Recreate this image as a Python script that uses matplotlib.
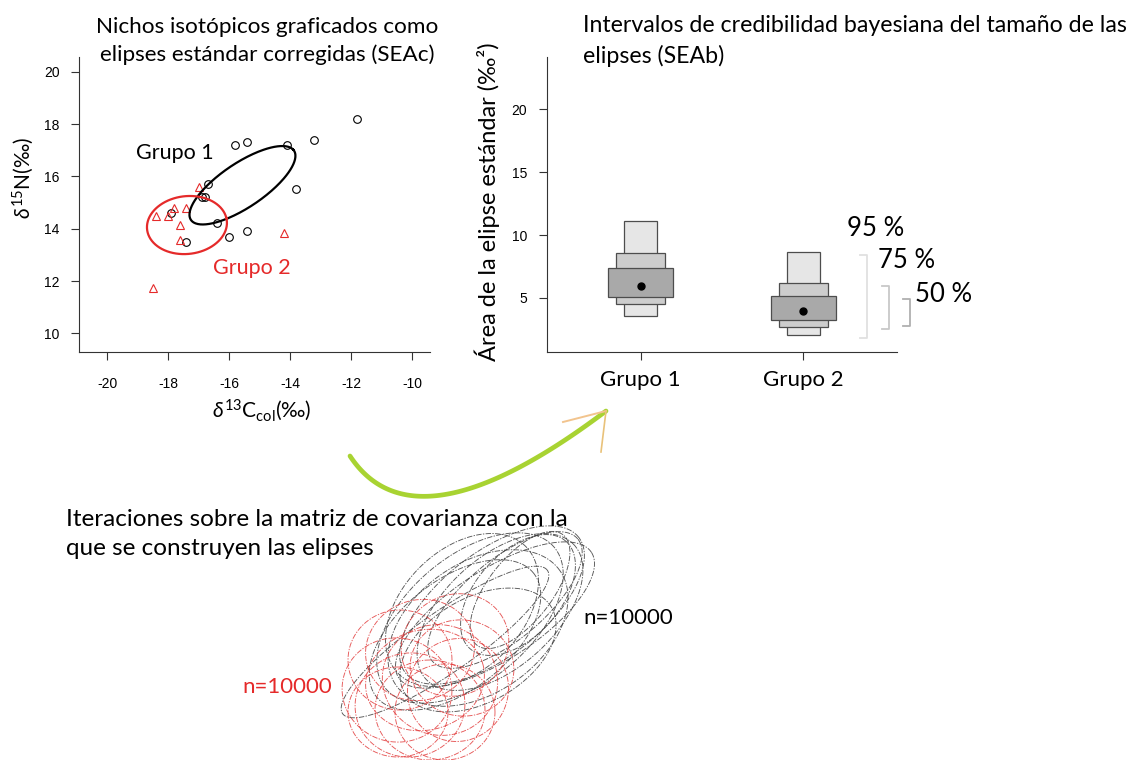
import numpy as np
import matplotlib
matplotlib.use("Agg")
import matplotlib.pyplot as plt

plt.rcParams['font.family'] = ['Lato', 'DejaVu Sans']
plt.rcParams['mathtext.fontset'] = 'custom'
plt.rcParams['mathtext.rm'] = 'Lato'
plt.rcParams['mathtext.it'] = 'Lato:italic'
plt.rcParams['mathtext.fallback'] = 'stix'

# ---------------- data ----------------
# Left panel: isotopic values
g1_d13c = [-11.8, -13.2, -14.1, -15.4, -15.8, -13.8, -16.7, -16.9, -16.8, -17.9, -16.4, -15.4, -16.0, -17.4]
g1_d15n = [18.2, 17.4, 17.2, 17.3, 17.2, 15.5, 15.7, 15.2, 15.2, 14.6, 14.2, 13.9, 13.7, 13.5]
g2_d13c = [-17.0, -17.8, -17.4, -18.4, -18.0, -17.6, -17.6, -14.2, -18.5]
g2_d15n = [15.6, 14.8, 14.8, 14.5, 14.5, 14.15, 13.55, 13.85, 11.75]

# SEAc ellipses: center x, center y, semi-major, semi-minor, angle (deg)
sea_g1 = [-15.56, 15.66, 2.15, 0.80, 39.4]
sea_g2 = [-17.38, 14.14, 1.32, 1.10, 12.0]

x_ticks_left = [-20, -18, -16, -14, -12, -10]
y_ticks_left = [10, 12, 14, 16, 18, 20]

# Right panel: Bayesian SEA credible intervals
groups = ['Grupo 1', 'Grupo 2']
hdr95_lo = [3.60, 2.08]
hdr95_hi = [11.12, 8.66]
hdr75_lo = [4.50, 2.72]
hdr75_hi = [8.55, 6.19]
hdr50_lo = [5.05, 3.25]
hdr50_hi = [7.41, 5.16]
sea_mode = [5.95, 3.97]
y_ticks_right = [5, 10, 15, 20]
ci_labels = ['95 %', '75 %', '50 %']

# Bottom sketch: posterior draws of ellipses (cx, cy, a, b, angle) in figure pixels
draws_g1_cx = [445, 492, 500, 470, 518, 478, 455, 520, 495, 462, 505, 478]
draws_g1_cy = [642, 605, 612, 618, 595, 628, 635, 590, 615, 610, 600, 650]
draws_g1_a = [125, 110, 100, 110, 72, 100, 100, 70, 115, 90, 95, 85]
draws_g1_b = [30, 52, 55, 62, 42, 65, 55, 32, 45, 60, 40, 52]
draws_g1_ang = [35, 38, 42, 40, 48, 35, 38, 52, 33, 45, 40, 30]

draws_g2_cx = [397, 420, 440, 410, 455, 430, 400, 458, 425, 445, 398, 462]
draws_g2_cy = [690, 650, 680, 705, 645, 710, 660, 690, 680, 712, 712, 668]
draws_g2_a = [52, 55, 55, 55, 55, 50, 52, 52, 60, 50, 45, 48]
draws_g2_b = [55, 50, 58, 52, 50, 55, 50, 50, 50, 48, 50, 52]
draws_g2_ang = [80, 20, 70, 10, 30, 90, 0, 60, 15, 0, 90, 80]

# ---------------- figure ----------------
W, H = 1137, 760
fig = plt.figure(figsize=(W / 100, H / 100), dpi=100)


def px_axes(x0, y0, x1, y1):
    return [x0 / W, 1 - y1 / H, (x1 - x0) / W, (y1 - y0) / H]


def ellipse_xy(cx, cy, a, b, ang, n=240):
    t = np.linspace(0, 2 * np.pi, n)
    p = np.deg2rad(ang)
    x = cx + a * np.cos(t) * np.cos(p) - b * np.sin(t) * np.sin(p)
    y = cy + a * np.cos(t) * np.sin(p) + b * np.sin(t) * np.cos(p)
    return x, y


tick_font = dict(family='Liberation Sans', size=10)
red = '#e52a2a'
axcol = '#333333'

# ---- left panel ----
ax1 = fig.add_axes(px_axes(79, 57, 430, 352))
ax1.set_xlim(-20.92, -9.41)
ax1.set_ylim(9.29, 20.56)
for s in ['top', 'right']:
    ax1.spines[s].set_visible(False)
for s in ['left', 'bottom']:
    ax1.spines[s].set_color(axcol)
ax1.set_xticks(x_ticks_left)
ax1.set_yticks(y_ticks_left)
ax1.set_xticklabels([str(v) for v in x_ticks_left], fontdict=tick_font)
ax1.set_yticklabels([str(v) for v in y_ticks_left], fontdict=tick_font)
ax1.tick_params(axis='both', length=6, color=axcol)
ax1.tick_params(axis='x', pad=12)
ax1.tick_params(axis='y', pad=8)

ax1.plot(g1_d13c, g1_d15n, 'o', mfc='none', mec='black', ms=5.5, mew=0.8)
ax1.plot(g2_d13c, g2_d15n, '^', mfc='none', mec=red, ms=6, mew=0.8)
ex, ey = ellipse_xy(*sea_g1)
ax1.plot(ex, ey, color='black', lw=1.6)
ex, ey = ellipse_xy(*sea_g2)
ax1.plot(ex, ey, color=red, lw=1.6)
ax1.text(-17.79, 16.89, 'Grupo 1', fontsize=15.5, color='black', ha='center', va='center')
ax1.text(-15.24, 12.50, 'Grupo 2', fontsize=15.5, color=red, ha='center', va='center')

ax1.set_xlabel('$\\delta^{\\mathrm{13}}$C$_{\\mathrm{col}}$(‰)', fontsize=15, va='center', ha='center')
ax1.xaxis.set_label_coords((262 - 79) / 351, (352 - 410) / 295)
ax1.set_ylabel('$\\delta^{\\mathrm{15}}$N(‰)', fontsize=15, va='center', ha='center')
ax1.yaxis.set_label_coords((23 - 79) / 351, (352 - 178) / 295)

# ---- right panel ----
ax2 = fig.add_axes(px_axes(546.7, 56.7, 897, 351.7))
ax2.set_xlim(0.422, 2.576)
ax2.set_ylim(0.73, 24.18)
for s in ['top', 'right']:
    ax2.spines[s].set_visible(False)
for s in ['left', 'bottom']:
    ax2.spines[s].set_color(axcol)
pos = np.arange(1, len(groups) + 1)
lo95, hi95 = np.array(hdr95_lo), np.array(hdr95_hi)
lo75, hi75 = np.array(hdr75_lo), np.array(hdr75_hi)
lo50, hi50 = np.array(hdr50_lo), np.array(hdr50_hi)
ax2.bar(pos, hi95 - lo95, bottom=lo95, width=0.203, color='#e6e6e6', edgecolor='#4d4d4d', lw=0.9)
ax2.bar(pos, hi75 - lo75, bottom=lo75, width=0.299, color='#cdcdcd', edgecolor='#4d4d4d', lw=0.9)
ax2.bar(pos, hi50 - lo50, bottom=lo50, width=0.40, color='#a9a9a9', edgecolor='#4d4d4d', lw=0.9)
ax2.plot(pos, sea_mode, 'o', color='black', ms=5)
ax2.set_xticks(pos)
ax2.set_xticklabels(groups, fontsize=16)
ax2.set_yticks(y_ticks_right)
ax2.set_yticklabels([str(v) for v in y_ticks_right], fontdict=tick_font)
ax2.tick_params(axis='both', length=6, color=axcol)
ax2.tick_params(axis='x', pad=7)
ax2.tick_params(axis='y', pad=8)
ax2.set_ylabel('Área de la elipse estándar (‰²)', fontsize=17, va='center', ha='center')
ax2.yaxis.set_label_coords((487 - 546.7) / 350.3, (351.7 - 202) / 295)

# ---- overlay (figure pixel coordinates) ----
ov = fig.add_axes([0, 0, 1, 1], zorder=10)
ov.set_xlim(0, W)
ov.set_ylim(H, 0)
ov.axis('off')

ov.text(267, 41, 'Nichos isotópicos graficados como\nelipses estándar corregidas (SEAc)',
        fontsize=16.2, ha='center', va='center', linespacing=1.5)
ov.text(583, 41, 'Intervalos de credibilidad bayesiana del tamaño de las\nelipses (SEAb)',
        fontsize=16.7, ha='left', va='center', linespacing=1.45)
ov.text(66, 534, 'Iteraciones sobre la matriz de covarianza con la\nque se construyen las elipses',
        fontsize=17.5, ha='left', va='center', linespacing=1.42)

# credible-interval brackets and labels
br_x = [867, 889, 910]
br_top = [255, 286, 299]
br_bot = [338, 329, 326]
br_col = ['#e0e0e0', '#c8c8c8', '#b0b0b0']
for xv, t, b, c in zip(br_x, br_top, br_bot, br_col):
    ov.plot([xv - 7, xv, xv, xv - 7], [t, t, b, b], color=c, lw=1.3)
lab_xy = [(847, 229), (878, 260), (915, 295)]
for (lx, ly), lab in zip(lab_xy, ci_labels):
    ov.text(lx, ly, lab, fontsize=18.5, ha='left', va='center')

# green curved arrow
P0, P1, P2 = np.array([350, 456]), np.array([415, 555]), np.array([606, 411])
tt = np.linspace(0, 1, 100)[:, None]
curve = (1 - tt) ** 2 * P0 + 2 * (1 - tt) * tt * P1 + tt ** 2 * P2
ov.plot(curve[:, 0], curve[:, 1], color='#a8d332', lw=3.4, solid_capstyle='round')
ov.plot([606, 563], [411, 422], color='#f2c48e', lw=1.4)
ov.plot([606, 601], [411, 452], color='#e9c27a', lw=1.2)

# posterior ellipse draws
for cx, cy, a, b, ang in zip(draws_g1_cx, draws_g1_cy, draws_g1_a, draws_g1_b, draws_g1_ang):
    x, y = ellipse_xy(cx, cy, a, b, ang)
    ov.plot(x, 2 * cy - y, color='#3a3a3a', lw=0.65, ls=(0, (6, 1.5, 1.5, 1.5)), alpha=0.85)
for cx, cy, a, b, ang in zip(draws_g2_cx, draws_g2_cy, draws_g2_a, draws_g2_b, draws_g2_ang):
    x, y = ellipse_xy(cx, cy, a, b, ang)
    ov.plot(x, 2 * cy - y, color='#e23b3b', lw=0.65, ls=(0, (6, 1.5, 1.5, 1.5)), alpha=0.85)

ov.text(583, 618, 'n=10000', fontsize=16, ha='left', va='center', color='black')
ov.text(242, 687, 'n=10000', fontsize=16, ha='left', va='center', color=red)

fig.savefig('out.png', dpi=100)
